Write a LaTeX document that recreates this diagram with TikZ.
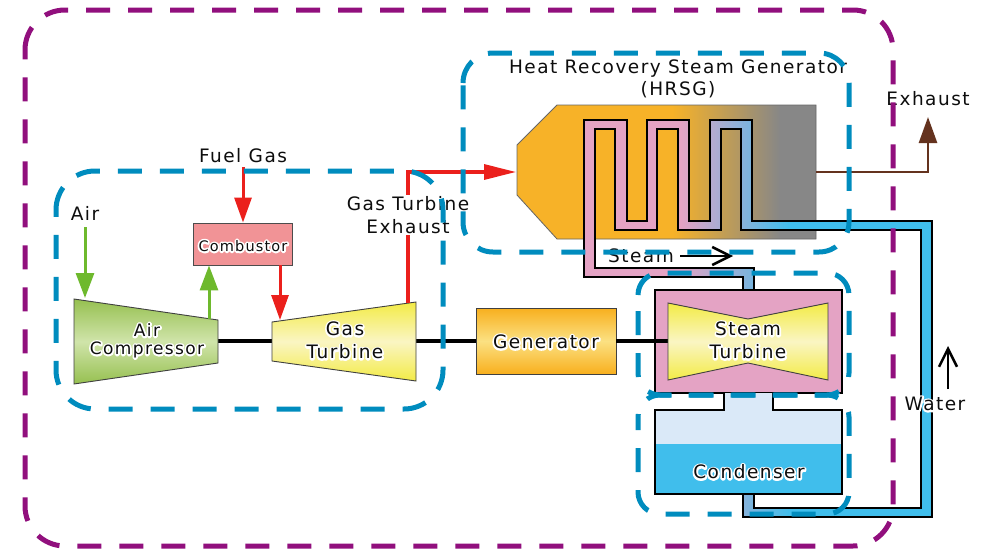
\documentclass[tikz,border=0pt]{standalone}
\usepackage{fontspec}
\setmainfont[LetterSpace=8]{DejaVu Sans}
\usetikzlibrary{arrows.meta}
\newcommand\halotext[1]{\leavevmode\rlap{\textcolor{white}{\special{pdf:literal direct 2 Tr 3.6 w 1 J 1 j}#1\special{pdf:literal direct 0 Tr 1 w 0 J 0 j}}}#1}
\definecolor{orangeH}{RGB}{247,178,40}
\definecolor{grayH}{RGB}{135,135,135}
\definecolor{pinkP}{RGB}{228,163,196}
\definecolor{blueP}{RGB}{64,190,236}
\definecolor{paleW}{RGB}{218,233,248}
\definecolor{blueD}{RGB}{0,140,190}
\definecolor{purpleD}{RGB}{145,15,125}
\definecolor{redA}{RGB}{235,32,28}
\definecolor{greenA}{RGB}{110,185,45}
\definecolor{brownA}{RGB}{100,50,30}
\definecolor{combF}{RGB}{241,147,150}
\definecolor{yelE}{RGB}{243,235,70}
\definecolor{yelM}{RGB}{250,245,195}
\definecolor{grnE}{RGB}{150,192,80}
\definecolor{grnM}{RGB}{208,228,170}
\definecolor{genE}{RGB}{248,175,30}
\definecolor{genM}{RGB}{251,225,130}
\pgfdeclarehorizontalshading{hrsgshade}{100bp}{color(0bp)=(orangeH); color(51bp)=(orangeH); color(69bp)=(grayH); color(100bp)=(grayH)}
\pgfdeclarehorizontalshading{pipeshade}{100bp}{color(0bp)=(pinkP); color(38.8bp)=(pinkP); color(54.6bp)=(blueP); color(100bp)=(blueP)}
% rounded box: style, left, top, right, bottom, radius; path starts where the top-left arc begins
\newcommand\rrbox[6]{\draw[#1] (#2,#3+#6) arc[start angle=180,end angle=270,radius=#6] -- (#4-#6,#3) arc[start angle=270,end angle=360,radius=#6] -- (#4,#5-#6) arc[start angle=0,end angle=90,radius=#6] -- (#2+#6,#5) arc[start angle=90,end angle=180,radius=#6] -- cycle;}
\tikzset{
  x=1pt,y=-1pt,
  body/.style={draw=black!75,line width=0.9pt},
  lbl/.style={font=\fontsize{18.5}{22.5}\selectfont,align=center,text=black!95,inner sep=0pt},
  lblcomp/.style={font=\fontsize{17}{21}\selectfont,align=center,text=black!95,inner sep=0pt},
  lblsmall/.style={font=\fontsize{14.5}{18}\selectfont,align=center,text=black!95,inner sep=0pt},
  pipeline/.style={draw=black,line width=1.8pt,line join=miter},
  shaft/.style={draw=black,line width=3.8pt},
  redarrow/.style={draw=redA,line width=3pt,-{Triangle[length=25pt,width=17pt]}},
  greenarrow/.style={draw=greenA,line width=3pt,-{Triangle[length=25pt,width=18pt]}},
  barb/.style={draw=black,line width=2.5pt,-{Straight Barb[length=18pt,width=18pt]}},
  bluebox/.style={draw=blueD,line width=5pt,dash pattern=on 24pt off 18pt,line cap=butt},
  purplebox/.style={draw=purpleD,line width=5pt,dash pattern=on 24pt off 18pt,line cap=butt}
}
\begin{document}
\begin{tikzpicture}
\useasboundingbox (0,0) rectangle (995,554);
\fill[white] (0,0) rectangle (995,554);
% named anchor points
\coordinate (airstart) at (85,227);
\coordinate (airend) at (85,298);
\coordinate (compOut) at (209,319);
\coordinate (fuelstart) at (243,167);
\coordinate (gtIn) at (280,320);
\coordinate (gtOut) at (408,303);
\coordinate (exCorner) at (408,172);
\coordinate (hrsgIn) at (516,172);
\coordinate (hrsgOut) at (816,172);
\coordinate (brCorner) at (928,172);
\coordinate (brEnd) at (928,117);
\coordinate (compR) at (218,341);
\coordinate (gtL) at (272,341);
\coordinate (gtR) at (416,341);
\coordinate (stL) at (668,341);
\coordinate (steamA) at (680,256);
\coordinate (steamB) at (733,256);
\coordinate (waterA) at (948,389);
\coordinate (waterB) at (948,346);
% HRSG casing
\path[shading=hrsgshade,draw=black!60,line width=0.8pt] (557,105) -- (816,105) -- (816,239) -- (557,239) -- (517,195) -- (517,145) -- cycle;
% steam/water pipe
\path[shading=pipeshade] (743,290) -- (743,277) -- (584,277) -- (584,120) -- (627,120) -- (627,221) -- (647,221) -- (647,120) -- (689,120) -- (689,221) -- (710,221) -- (710,120) -- (752,120) -- (752,221) -- (932,221) -- (932,517) -- (743,517) -- (743,494) -- (754,494) -- (754,508) -- (921,508) -- (921,230) -- (741,230) -- (741,129) -- (721,129) -- (721,230) -- (678,230) -- (678,129) -- (657,129) -- (657,230) -- (615,230) -- (615,129) -- (595,129) -- (595,268) -- (754,268) -- (754,290) -- cycle;
\draw[pipeline] (743,290) -- (743,277) -- (584,277) -- (584,120) -- (627,120) -- (627,221) -- (647,221) -- (647,120) -- (689,120) -- (689,221) -- (710,221) -- (710,120) -- (752,120) -- (752,221) -- (932,221) -- (932,517) -- (743,517) -- (743,494);
\draw[pipeline] (754,494) -- (754,508) -- (921,508) -- (921,230) -- (741,230) -- (741,129) -- (721,129) -- (721,230) -- (678,230) -- (678,129) -- (657,129) -- (657,230) -- (615,230) -- (615,129) -- (595,129) -- (595,268) -- (754,268) -- (754,290);
% steam turbine casing
\node[draw=black,line width=1.6pt,fill=pinkP,minimum width=187pt,minimum height=103pt,inner sep=0pt] (stcase) at (748.5,341.5) {};
% condenser
\path[fill=paleW] (655,410) -- (724,410) -- (724,393) -- (773,393) -- (773,410) -- (842,410) -- (842,444) -- (655,444) -- cycle;
\fill[blueP] (655,444) rectangle (842,494);
\draw[draw=black,line width=1.6pt] (724,393) -- (724,410) -- (655,410) -- (655,494) -- (842,494) -- (842,410) -- (773,410) -- (773,393);
% shafts
\node[body,top color=genE,bottom color=genE,middle color=genM,minimum width=140pt,minimum height=66pt,inner sep=0pt] (gen) at (546,341) {};
\draw[shaft] (compR) -- (gtL);
\draw[shaft] (gtR) -- (gen.west);
\draw[shaft] (gen.east) -- (stL);
% machines
\path[body,top color=grnE,bottom color=grnE,middle color=grnM] (74,299) -- (218,320) -- (218,363) -- (74,384) -- cycle;
\path[body,top color=yelE,bottom color=yelE,middle color=yelM] (272,322) -- (416,302) -- (416,381) -- (272,361) -- cycle;
\path[body,top color=yelE,bottom color=yelE,middle color=yelM] (668,303) -- (748,319) -- (828,303) -- (828,380) -- (748,363) -- (668,380) -- cycle;
\node[draw=black!70,line width=0.9pt,fill=combF,minimum width=99pt,minimum height=42pt,inner sep=0pt] (comb) at (242.5,244) {};
% flow arrows
\draw[greenarrow] (airstart) -- (airend);
\draw[greenarrow] (compOut) -- (comb.south -| compOut);
\draw[redarrow] (fuelstart) -- (comb.north -| fuelstart);
\draw[redarrow] (comb.south -| gtIn) -- (gtIn);
\draw[draw=redA,line width=3.2pt,-{Triangle[length=32pt,width=15pt]}] (gtOut) -- (exCorner) -- (hrsgIn);
\draw[draw=brownA,line width=2.6pt,-{Triangle[length=26pt,width=18pt]}] (hrsgOut) -- (brCorner) -- (brEnd);
\draw[barb] (waterA) -- (waterB);
% plain labels
\node[lbl,fill=white,inner xsep=1pt,inner ysep=2pt] (lgte) at (408,215) {Gas Turbine\\Exhaust};
\node[lbl] (lhrsg) at (678,79) {Heat Recovery Steam Generator\\(HRSG)};
\node[lbl] (lfuel) at (243,156) {Fuel Gas};
\node[lbl] (lair) at (85,213) {Air};
\node[lbl] (lexh) at (928,99) {Exhaust};
\node[lbl] (lwater) at (935,404) {\halotext{Water}};
\node[lbl] (lsteam) at (641,256) {Steam};
\draw[barb] (steamA) -- (steamB);
% halo labels
\node[lblsmall] (lcomb) at (243,246) {\halotext{Combustor}};
\node[lblcomp] (lcomp) at (147,330) {\halotext{Air}};
\node[lblcomp] (lcomp2) at (147,350) {\halotext{Compressor}};
\node[lbl] (lgt) at (345,329) {\halotext{Gas}};
\node[lbl] (lgt2) at (345,352) {\halotext{Turbine}};
\node[lbl] (lgen) at (546,342) {\halotext{Generator}};
\node[lbl] (lst) at (748,329) {\halotext{Steam}};
\node[lbl] (lst2) at (748,352) {\halotext{Turbine}};
\node[lbl] (lcond) at (749,472) {\halotext{Condenser}};
% dashed group outlines
\rrbox{bluebox}{56}{171}{443}{409}{39}
\rrbox{bluebox}{463}{53}{849}{252}{30}
\rrbox{bluebox}{638}{273}{849}{395}{22}
\rrbox{bluebox,dash phase=21pt}{638}{395}{849}{514}{22}
\rrbox{purplebox}{25}{10}{893}{546}{40}
\end{tikzpicture}
\end{document}
